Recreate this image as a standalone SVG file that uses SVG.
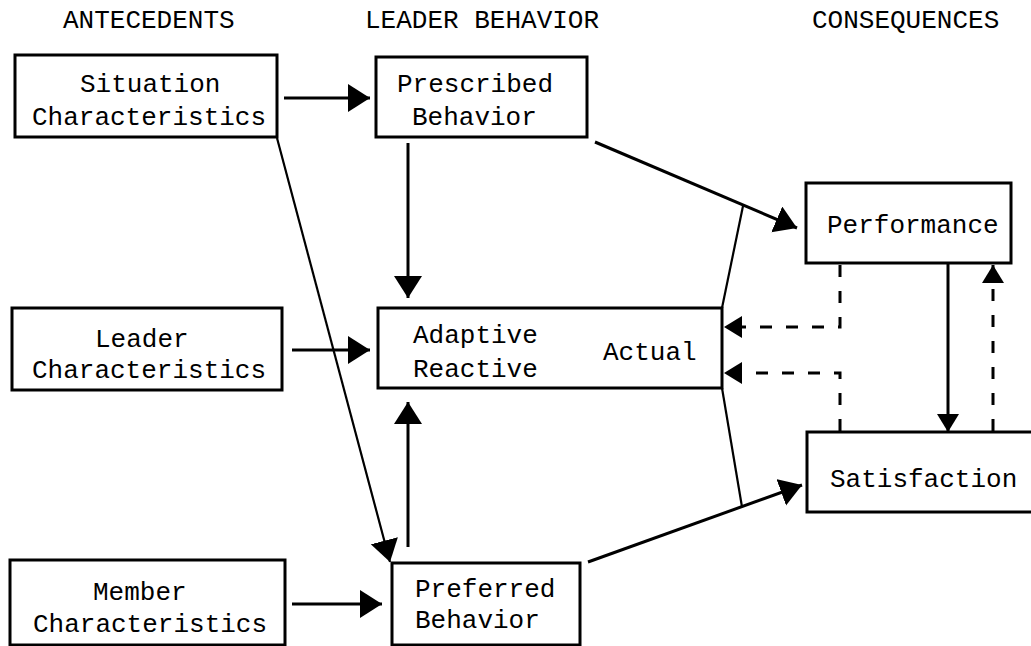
<svg xmlns="http://www.w3.org/2000/svg" width="1031" height="646" viewBox="0 0 1031 646">
<style>
.box{fill:#fff;stroke:#000;stroke-width:3}
text{font-family:"Liberation Mono","DejaVu Sans Mono",monospace;font-size:26px;fill:#000}
.ln{fill:none;stroke:#000;stroke-width:3}
.thin{fill:none;stroke:#000;stroke-width:2.2}
.dash{fill:none;stroke:#000;stroke-width:3;stroke-dasharray:12 14}
</style>
<defs>
<marker id="big" markerUnits="userSpaceOnUse" markerWidth="24" markerHeight="30" refX="22" refY="14" orient="auto">
<path d="M0,0 L22,14 L0,28 Z" fill="#000"/>
</marker>
<marker id="small" markerUnits="userSpaceOnUse" markerWidth="20" markerHeight="24" refX="18" refY="11" orient="auto">
<path d="M0,0 L18,11 L0,22 Z" fill="#000"/>
</marker>
</defs>
<rect width="1031" height="646" fill="#fff"/>
<g id="headings">
<text x="63" y="28">ANTECEDENTS</text>
<text x="365" y="28">LEADER BEHAVIOR</text>
<text x="812" y="28">CONSEQUENCES</text>
</g>
<g id="connectors">
<path class="ln" d="M284,98 L370,98" marker-end="url(#big)"/>
<path class="ln" d="M408,143 L408,298" marker-end="url(#big)"/>
<path class="thin" d="M277,138 L390,562" marker-end="url(#big)"/>
<path class="ln" d="M292,350 L370,350" marker-end="url(#big)"/>
<path class="ln" d="M408,547 L408,402" marker-end="url(#big)"/>
<path class="ln" d="M292,604 L382,604" marker-end="url(#big)"/>
<path class="ln" d="M595,142 L797,228" marker-end="url(#big)"/>
<path class="ln" d="M588,562 L802,485" marker-end="url(#big)"/>
<path class="thin" d="M743,206 L722,308"/>
<path class="thin" d="M722,388 L742,507"/>
<path class="dash" d="M840,265 L840,327 L724,327" marker-end="url(#small)"/>
<path class="dash" d="M840,431 L840,373 L724,373" marker-end="url(#small)"/>
<path class="ln" d="M948,263 L948,432" marker-end="url(#small)"/>
<path class="dash" d="M993,431 L993,265" marker-end="url(#small)"/>
</g>
<g id="situation">
<rect class="box" x="15" y="55" width="262" height="82"/>
<text x="80" y="92">Situation</text>
<text x="32" y="125">Characteristics</text>
</g>
<g id="prescribed">
<rect class="box" x="376" y="57" width="211" height="80"/>
<text x="397" y="92">Prescribed</text>
<text x="412" y="125">Behavior</text>
</g>
<g id="leader">
<rect class="box" x="12" y="308" width="270" height="82"/>
<text x="95" y="347">Leader</text>
<text x="32" y="378">Characteristics</text>
</g>
<g id="actual">
<rect class="box" x="378" y="308" width="344" height="80"/>
<text x="413" y="343">Adaptive</text>
<text x="413" y="377">Reactive</text>
<text x="603" y="360">Actual</text>
</g>
<g id="member">
<rect class="box" x="10" y="560" width="275" height="85"/>
<text x="93" y="600">Member</text>
<text x="33" y="632">Characteristics</text>
</g>
<g id="preferred">
<rect class="box" x="392" y="563" width="188" height="82"/>
<text x="415" y="597">Preferred</text>
<text x="415" y="628">Behavior</text>
</g>
<g id="performance">
<rect class="box" x="806" y="183" width="205" height="80"/>
<text x="827" y="233">Performance</text>
</g>
<g id="satisfaction">
<rect class="box" x="807" y="432" width="230" height="80"/>
<text x="830" y="487">Satisfaction</text>
</g>
</svg>
